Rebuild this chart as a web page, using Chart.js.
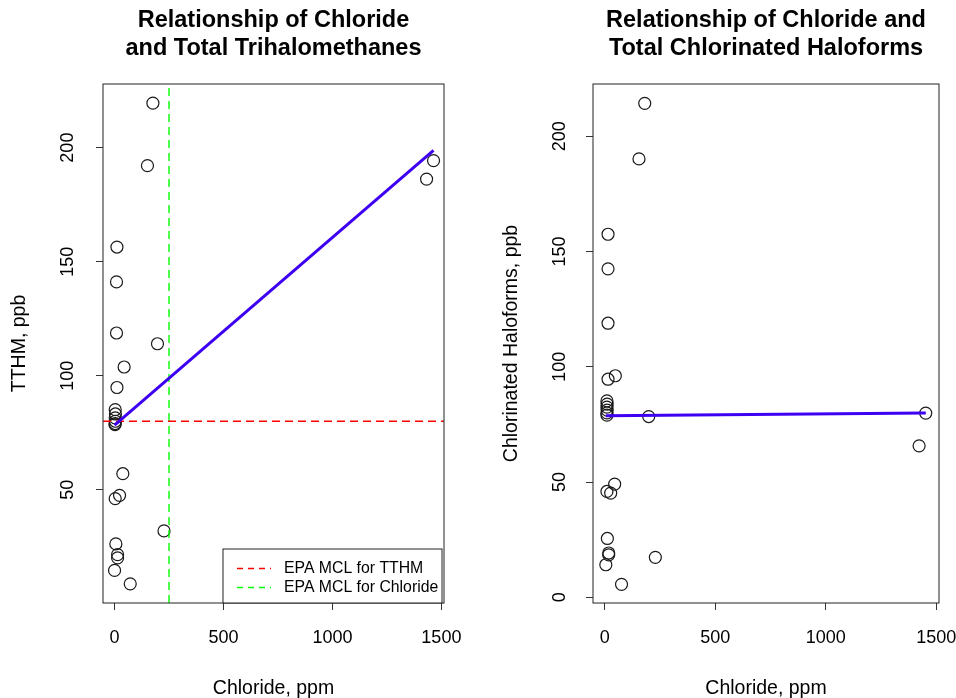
<!DOCTYPE html>
<html lang="en">
<head>
  <meta charset="UTF-8">
  <title>Chloride vs TTHM / Chlorinated Haloforms</title>
  <script src="https://cdn.jsdelivr.net/npm/chart.js"></script>
  <style>
    body { margin: 0; background: #fff; }
    .panels { display: flex; width: 956px; height: 698px; }
    .panels canvas { display: block; }
  </style>
</head>
<body>
  <div class="panels">
    <canvas id="tthmChart" width="478" height="698"></canvas>
    <canvas id="chfChart" width="478" height="698"></canvas>
  </div>

  <script>
    // values
    const tthmChloride = [176, 151, 11, 9, 9, 197, 44, 11, 3, 4, 3, 4, 3, 2, 38, 23, 3, 227, 6, 14, 14, 0, 72, 1464, 1432];
    const tthmValues   = [219.5, 192.1, 156.4, 141.1, 118.7, 114.0, 103.8, 94.8, 85.1, 83.2, 81.5, 80.0, 79.0, 78.5,
                          57.0, 47.5, 46.1, 31.9, 26.2, 21.5, 20.1, 14.6, 8.7, 194.3, 186.2];
    const chfChloride  = [181, 155, 15, 15, 15, 48, 15, 10, 11, 10, 11, 10, 10, 199, 45, 10, 27, 12, 18, 18, 229, 5, 76, 1452, 1422];
    const chfValues    = [214.3, 190.2, 157.5, 142.5, 118.9, 96.1, 94.6, 85.2, 83.8, 82.5, 81.2, 80.0, 79.0, 78.4,
                          49.1, 45.9, 45.2, 25.5, 19.2, 18.4, 17.3, 14.1, 5.6, 79.9, 65.7];

    // fitted lines [intercept, slope]
    const tthmFit = [78.3, 0.0823];
    const chfFit  = [78.7, 0.00083];

    // EPA limits
    const mclTTHM = 80;
    const mclChloride = 250;

    const xTicks = [0, 500, 1000, 1500];
    const yTicksTTHM = [50, 100, 150, 200];
    const yTicksCHF = [0, 50, 100, 150, 200];
    const xLim = [-53, 1512];
    const yLimTTHM = [0.3, 227.9];
    const yLimCHF = [-2.5, 222.7];

    const FONT = '"Liberation Sans", Arial, Helvetica, sans-serif';
    const AXIS_PX = 19.5;
    const TICK_PX = 18;
    Chart.defaults.font.family = FONT;
    Chart.defaults.color = '#000';

    const toPoints = (xs, ys) => xs.map((x, i) => ({ x: x, y: ys[i] }));
    const fitLine = (xs, fit) => {
      const lo = Math.min(...xs), hi = Math.max(...xs);
      return [{ x: lo, y: fit[0] + fit[1] * lo }, { x: hi, y: fit[0] + fit[1] * hi }];
    };

    // box, title, rotated y labels and the inset legend, R style
    const rPlot = {
      id: 'rPlot',
      afterDraw(chart, args, opts) {
        const { ctx, chartArea: a } = chart;
        ctx.save();
        ctx.strokeStyle = '#222';
        ctx.lineWidth = 1;
        ctx.strokeRect(a.left, a.top, a.right - a.left, a.bottom - a.top);

        ctx.fillStyle = '#000';
        ctx.textAlign = 'center';
        ctx.textBaseline = 'middle';
        ctx.font = 'bold 23.5px ' + FONT;
        opts.title.forEach((t, i) => ctx.fillText(t, (a.left + a.right) / 2, 21 + i * 28));

        const ys = chart.scales.y;
        ctx.font = TICK_PX + 'px ' + FONT;
        ys.ticks.forEach(t => {
          ctx.save();
          ctx.translate(opts.yLabelX, ys.getPixelForValue(t.value));
          ctx.rotate(-Math.PI / 2);
          ctx.fillText(String(t.value), 0, 0);
          ctx.restore();
        });

        if (opts.legend) {
          const items = chart.data.datasets.filter(d => d.inLegend);
          const w = 219, h = 54;
          const x0 = a.right - 2 - w, y0 = a.bottom - h;
          ctx.fillStyle = '#fff';
          ctx.fillRect(x0, y0, w, h);
          ctx.strokeStyle = '#222';
          ctx.strokeRect(x0, y0, w, h);
          ctx.font = '15.8px ' + FONT;
          ctx.textAlign = 'left';
          items.forEach((d, i) => {
            const ly = Math.round(y0 + 19 + i * 19) + 0.5;
            ctx.strokeStyle = d.borderColor;
            ctx.lineWidth = 1.5;
            ctx.setLineDash([6, 5]);
            ctx.beginPath();
            ctx.moveTo(x0 + 14, ly);
            ctx.lineTo(x0 + 48, ly);
            ctx.stroke();
            ctx.setLineDash([]);
            ctx.fillStyle = '#000';
            ctx.fillText(d.label, x0 + 61, ly);
          });
        }
        ctx.restore();
      }
    };

    function makeChart(id, cfg) {
      const pointSet = {
        label: 'points',
        data: toPoints(cfg.xs, cfg.ys),
        pointStyle: 'circle',
        pointRadius: 6,
        pointHoverRadius: 6,
        borderWidth: 1.2,
        borderColor: '#1a1a1a',
        backgroundColor: 'rgba(0,0,0,0)'
      };
      const fitSet = {
        label: 'fit',
        data: fitLine(cfg.xs, cfg.fit),
        showLine: true,
        borderColor: '#3d00f2',
        borderWidth: 3,
        pointRadius: 0
      };
      const datasets = [fitSet];
      if (cfg.mcl) {
        datasets.push({
          label: 'EPA MCL for TTHM',
          inLegend: true,
          data: [{ x: xLim[0], y: mclTTHM }, { x: xLim[1], y: mclTTHM }],
          showLine: true, borderColor: '#ff0000', borderWidth: 1.4,
          borderDash: [8, 5], pointRadius: 0
        });
        datasets.push({
          label: 'EPA MCL for Chloride',
          inLegend: true,
          data: [{ x: mclChloride, y: cfg.yLim[0] }, { x: mclChloride, y: cfg.yLim[1] }],
          showLine: true, borderColor: '#00ff00', borderWidth: 1.4,
          borderDash: [8, 5], pointRadius: 0
        });
      }
      datasets.push(pointSet);

      return new Chart(document.getElementById(id), {
        type: 'scatter',
        data: { datasets: datasets },
        options: {
          responsive: false,
          animation: false,
          devicePixelRatio: 1,
          layout: { autoPadding: false, padding: { top: 84, right: cfg.padRight, bottom: 0, left: 0 } },
          plugins: {
            legend: { display: false },
            tooltip: { enabled: false },
            rPlot: { title: cfg.title, yLabelX: cfg.yLabelX, legend: !!cfg.mcl }
          },
          scales: {
            x: {
              type: 'linear',
              min: xLim[0], max: xLim[1],
              afterBuildTicks: s => { s.ticks = xTicks.map(v => ({ value: v })); },
              afterFit: s => { s.height = 95; s.paddingLeft = 0; s.paddingRight = 0; },
              grid: { drawOnChartArea: false, drawTicks: true, tickLength: 7, color: '#333' },
              border: { display: false },
              ticks: { color: '#000', font: { size: TICK_PX }, padding: 17, maxRotation: 0, autoSkip: false,
                       callback: v => String(v) },
              title: { display: true, text: 'Chloride, ppm', color: '#000',
                       font: { size: AXIS_PX, lineHeight: 1 }, padding: { top: 0, bottom: 0 } }
            },
            y: {
              type: 'linear',
              min: cfg.yLim[0], max: cfg.yLim[1],
              afterBuildTicks: s => { s.ticks = cfg.yTicks.map(v => ({ value: v })); },
              afterFit: s => { s.width = cfg.yWidth; s.paddingTop = 0; s.paddingBottom = 0; },
              grid: { drawOnChartArea: false, drawTicks: true, tickLength: 7, color: '#333' },
              border: { display: false },
              ticks: { color: 'rgba(0,0,0,0)', font: { size: TICK_PX } },
              title: { display: true, text: cfg.yTitle, color: '#000',
                       font: { size: AXIS_PX, lineHeight: 1 }, padding: { top: cfg.yTitlePad, bottom: 0 } }
            }
          }
        },
        plugins: [rPlot]
      });
    }

    makeChart('tthmChart', {
      xs: tthmChloride, ys: tthmValues, fit: tthmFit, mcl: true,
      yLim: yLimTTHM, yTicks: yTicksTTHM,
      title: ['Relationship of Chloride', 'and Total Trihalomethanes'],
      yTitle: 'TTHM, ppb', yWidth: 103, yTitlePad: 10, yLabelX: 68, padRight: 34
    });

    makeChart('chfChart', {
      xs: chfChloride, ys: chfValues, fit: chfFit, mcl: false,
      yLim: yLimCHF, yTicks: yTicksCHF,
      title: ['Relationship of Chloride and', 'Total Chlorinated Haloforms'],
      yTitle: 'Chlorinated Haloforms, ppb', yWidth: 115, yTitlePad: 24, yLabelX: 82, padRight: 17
    });
  </script>
</body>
</html>
